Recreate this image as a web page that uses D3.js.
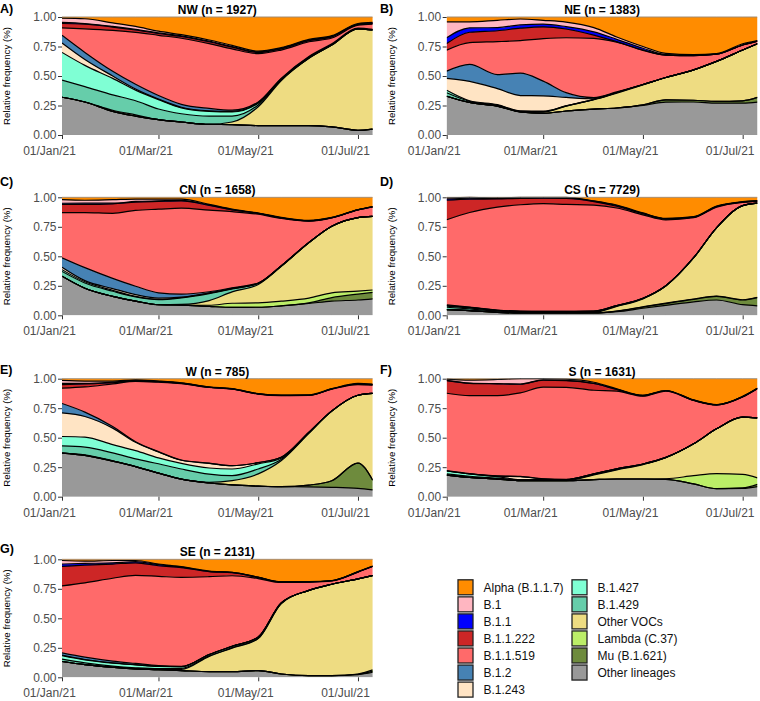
<!DOCTYPE html>
<html><head><meta charset="utf-8">
<script src="https://cdn.jsdelivr.net/npm/d3@7"></script>
<style>
body{margin:0;background:#fff}
svg{display:block}
text{font-family:"Liberation Sans",Arial,Helvetica,sans-serif}
</style>
</head><body>
<svg id="c" width="760" height="701"></svg>
<script>
// ---------------- DATA ----------------
// sampling days (offset from 01/Jan/21)
const days = [0,14,31,45,59,73,90,104,120,134,151,165,181,190];
const regions = ["NW","NE","CN","CS","W","S","SE"];
const regionN = [1927,1383,1658,7729,785,1631,2131];
const panelLetters = ["A)","B)","C)","D)","E)","F)","G)"];
const xTickDates = ["2021-01-01","2021-03-01","2021-05-01","2021-07-01"];
const yTicks = [0,0.25,0.5,0.75,1];

const seriesKeys = ["alpha","b1","b11","b11222","b11519","b12","b1243","b1427","b1429","vocs","lambda","mu","other"];
const seriesLabels = ["Alpha (B.1.1.7)","B.1","B.1.1","B.1.1.222","B.1.1.519","B.1.2","B.1.243","B.1.427","B.1.429","Other VOCs","Lambda (C.37)","Mu (B.1.621)","Other lineages"];
const seriesColors = ["#FF8C00","#FFB6C1","#0000FF","#CD2626","#FF6A6A","#4682B4","#FFE4C4","#7FFFD4","#66CDAA","#EEDC82","#BCEE68","#6E8B3D","#999999"];

const other = {
  NW:[.32,.28,.20,.16,.13,.11,.09,.088,.08,.08,.08,.07,.04,.05],
  NE:[.324,.268,.246,.196,.184,.20,.22,.23,.25,.28,.28,.27,.27,.28],
  CN:[.33,.23,.16,.12,.09,.085,.076,.068,.068,.08,.10,.12,.13,.14],
  CS:[.048,.04,.025,.02,.02,.02,.02,.03,.06,.085,.115,.13,.09,.08],
  W:[.37,.35,.306,.255,.20,.15,.117,.10,.09,.085,.085,.08,.07,.058],
  S:[.184,.164,.15,.136,.136,.136,.145,.15,.15,.147,.108,.068,.07,.085],
  SE:[.134,.108,.085,.071,.065,.057,.048,.048,.057,.028,.014,.014,.023,.043]
};
const mu = {
  NW:[0,0,0,0,0,0,0,0,0,0,0,0,0,0],
  NE:[0,0,0,0,0,0,0,0,.005,.02,.015,.015,.02,.04],
  CN:[0,0,0,0,0,0,0,0,0,0,.005,.03,.05,.055],
  CS:[0,0,0,0,0,0,0,.005,.01,.015,.02,.03,.04,.07],
  W:[0,0,0,0,0,0,0,0,0,0,.015,.056,.215,.082],
  S:[0,0,0,0,0,0,0,0,0,0,0,0,.005,.02],
  SE:[0,0,0,0,0,0,0,0,0,0,0,0,.003,.01]
};
const lambda = {
  NW:[0,0,0,0,0,0,0,0,0,0,0,0,0,0],
  NE:[0,0,0,0,0,0,0,0,0,0,0,0,0,0],
  CN:[0,0,0,0,0,0,.01,.035,.037,.04,.04,.04,.025,.02],
  CS:[0,0,0,0,0,0,0,0,.002,.003,.003,.003,.002,.002],
  W:[0,0,0,0,0,0,0,0,0,0,0,0,0,0],
  S:[0,0,0,0,0,0,0,0,0,.005,.07,.127,.115,.055],
  SE:[0,0,0,0,0,0,0,0,0,0,0,0,.002,.01]
};
const vocs = {
  NW:[0,0,.01,.01,0,0,0,.022,.16,.38,.57,.70,.86,.84],
  NE:[0,0,0,0,.01,.04,.08,.127,.17,.19,.258,.338,.43,.457],
  CN:[0,0,0,0,0,.005,.04,.097,.155,.295,.466,.564,.625,.625],
  CS:[0,0,0,0,0,0,.005,.04,.068,.146,.35,.58,.80,.80],
  W:[0,.005,.003,0,0,0,.005,.037,.104,.22,.445,.594,.575,.74],
  S:[0,0,0,0,0,0,.04,.077,.122,.178,.27,.38,.484,.508],
  SE:[0,0,0,0,0,.01,.13,.2,.273,.597,.726,.776,.81,.803]
};
const b1429 = {
  NW:[.145,.13,.13,.12,.09,.07,.07,.05,.015,.005,0,0,0,0],
  NE:[.03,.01,.008,.005,.005,.003,.003,.005,.003,0,0,0,0,0],
  CN:[.04,.044,.043,.035,.043,.055,.06,.025,.01,.005,.003,0,0,0],
  CS:[.02,.015,.01,.008,.008,.008,.006,.004,.003,.002,.002,0,0,0],
  W:[.06,.065,.068,.065,.08,.086,.071,.043,.042,.012,.004,0,0,0],
  S:[.01,.01,.008,.005,.005,.005,.005,.005,.003,.002,0,0,0,0],
  SE:[.02,.015,.01,.01,.008,.008,.004,.004,.003,.002,0,0,0,0]
};
const b1427 = {
  NW:[.235,.18,.14,.09,.08,.05,.04,.035,.015,.005,.005,0,0,0],
  NE:[.02,.005,.005,.003,.003,0,0,0,0,0,0,0,0,0],
  CN:[.015,.01,.008,.005,.003,.003,.003,.003,0,0,0,0,0,0],
  CS:[.01,.008,.005,.004,.003,.003,.002,.002,.002,.001,0,0,0,0],
  W:[.08,.085,.071,.07,.05,.047,.052,.056,.044,.01,.004,0,0,0],
  S:[.025,.02,.012,.005,.005,.005,.005,.005,.002,.001,0,0,0,0],
  SE:[.03,.025,.025,.025,.02,.015,.012,.012,.01,.005,0,0,0,0]
};
const b1243 = {
  NW:[.08,.05,.02,.01,.005,.005,.005,.005,.005,.005,.005,.005,0,0],
  NE:[.10,.16,.136,.13,.13,.07,.005,0,0,0,0,0,0,0],
  CN:[.02,.01,.015,.015,.01,.003,.003,.002,0,0,0,0,0,0],
  CS:[.005,.004,.003,.002,.002,.002,.002,.001,0,0,0,0,0,0],
  W:[.20,.175,.142,.07,.05,.027,.04,.028,.01,.008,.002,0,0,0],
  S:[0,0,.005,.025,.005,0,0,0,0,0,0,0,0,0],
  SE:[.003,.003,.002,.002,.001,0,0,0,0,0,0,0,0,0]
};
const b12 = {
  NW:[.065,.06,.04,.04,.03,.025,.02,.01,.005,.005,.005,.005,.005,.005],
  NE:[.06,.14,.12,.19,.125,.04,.01,.005,0,0,0,0,0,0],
  CN:[.08,.11,.086,.07,.045,.025,.01,.005,.003,0,0,0,0,0],
  CS:[.005,.003,.002,.001,0,0,0,0,0,0,0,0,0,0],
  W:[.08,.037,.014,.005,.003,.002,.002,.001,0,0,0,0,0,0],
  S:[.003,.003,.002,.002,.001,.001,0,0,0,0,0,0,0,0],
  SE:[.02,.02,.015,.01,.005,.002,0,0,0,0,0,0,0,0]
};
const b11519 = {
  NW:[.062,.20,.347,.44,.51,.56,.55,.52,.41,.24,.125,.05,.025,.045],
  NE:[.176,.18,.28,.275,.36,.457,.503,.423,.29,.19,.12,.061,.043,.023],
  CN:[.38,.467,.55,.64,.71,.714,.70,.65,.58,.405,.18,.07,.065,.08],
  CS:[.72,.80,.875,.90,.91,.905,.90,.82,.71,.56,.34,.175,.028,.014],
  W:[.13,.213,.366,.51,.59,.65,.645,.651,.583,.524,.316,.185,.09,.07],
  S:[.66,.664,.683,.707,.778,.783,.709,.658,.575,.562,.367,.202,.171,.247],
  SE:[.566,.63,.70,.748,.76,.757,.662,.60,.498,.174,.07,.028,.057,.077]
};
const b11222 = {
  NW:[.038,.04,.028,.02,.015,.015,.015,.015,.01,.01,.01,.01,.005,.005],
  NE:[.056,.085,.093,.105,.10,.073,.028,.005,.003,0,0,0,0,0],
  CN:[.07,.07,.08,.07,.066,.06,.04,.015,.008,.005,.003,.003,0,0],
  CS:[.165,.113,.07,.054,.045,.05,.03,.015,.01,.008,.005,.005,.003,.003],
  W:[.03,.025,.01,.005,.005,.003,.002,.002,.002,.002,.002,.002,.005,.005],
  S:[.108,.105,.10,.074,.06,.057,.057,.015,.005,.003,.003,.002,.003,.003],
  SE:[.165,.15,.12,.107,.09,.083,.043,.026,.01,.005,.003,.002,.002,.002]
};
const b11 = {
  NW:[.01,.005,.005,.005,.005,.005,.005,.005,.005,.005,.005,.005,.005,.005],
  NE:[.047,.036,.027,.028,.024,.02,.028,.02,.015,.005,.003,0,0,0],
  CN:[.01,.01,.005,.005,.005,.005,.005,.003,0,0,0,0,0,0],
  CS:[.01,.008,.005,.004,.003,.005,.003,.005,.002,.001,.001,.001,.001,.001],
  W:[.01,.005,.005,.003,.002,.002,.001,.001,0,0,0,0,0,0],
  S:[.002,.002,.002,.002,.002,.002,.001,.001,0,0,0,0,0,0],
  SE:[.02,.015,.01,.01,.01,.004,.003,.002,0,0,0,0,0,0]
};
const b1 = {
  NW:[.035,.04,.03,.025,.015,.01,.01,.01,.005,.005,.005,.005,.005,.005],
  NE:[.134,.05,.062,.05,.032,.038,.036,.02,.015,.01,.005,.005,.01,.005],
  CN:[.03,.025,.03,.02,.015,.01,.005,.005,.002,.005,.003,.002,.002,.002],
  CS:[.01,.008,.005,.004,.005,.005,.003,.005,.004,.003,.003,.003,.002,.002],
  W:[.025,.02,.01,.005,.003,.002,.002,.002,.002,.002,.002,.002,.005,.005],
  S:[.01,.025,.035,.045,.01,.01,.01,.005,.003,.002,.002,.001,.002,.002],
  SE:[.03,.02,.02,.01,.005,.003,.002,.002,.002,.002,.002,.002,.002,.002]
};
const alpha = {
  NW:[.01,.015,.05,.08,.12,.15,.195,.24,.29,.26,.19,.16,.055,.045],
  NE:[.04,.04,.028,.017,.028,.042,.09,.17,.25,.31,.32,.31,.227,.2],
  CN:[.02,.025,.02,.015,.015,.015,.06,.10,.133,.17,.195,.17,.105,.08],
  CS:[.005,0,.004,.001,0,0,.03,.065,.133,.18,.165,.075,.037,.029],
  W:[.015,.02,.02,.01,.02,.035,.07,.085,.127,.14,.14,.085,.04,.045],
  S:[.004,.012,.007,0,0,.004,.03,.085,.14,.10,.18,.22,.15,.08],
  SE:[.01,.015,.01,.01,.04,.063,.10,.11,.152,.19,.19,.18,.105,.057]
};

const seriesData = {alpha,b1,b11,b11222,b11519,b12,b1243,b1427,b1429,vocs,lambda,mu,other};

// ---------------- DRAW ----------------
const svg = d3.select("#c");
const defs = svg.append("defs");
const color = d3.scaleOrdinal().domain(seriesKeys).range(seriesColors);
const stackKeys = seriesKeys.slice().reverse();
const start = new Date(2021,0,1);
const dates = days.map(d => d3.timeDay.offset(start, d));
const tickDates = xTickDates.map(s => { const p = s.split("-"); return new Date(+p[0], +p[1]-1, +p[2]); });

const colX = [62, 446.7];
const rowY = [17, 197.3, 378.7, 559.3];
const labelY = [12.8, 185.5, 373.8, 553.2];
const W = 310.7, H = 118;
const tickCol = "#4D4D4D";

regions.forEach((reg, i) => {
  const col = i % 2, row = Math.floor(i / 2);
  const x0 = colX[col], y0 = rowY[row];
  const x = d3.scaleTime().domain([dates[0], dates[dates.length-1]]).range([x0, x0 + W]);
  const y = d3.scaleLinear().domain([0, 1]).range([y0 + H, y0]);

  const rows = dates.map((dt, j) => {
    const o = {date: dt};
    stackKeys.forEach(k => o[k] = seriesData[k][reg][j]);
    return o;
  });
  const stacked = d3.stack().keys(stackKeys).offset(d3.stackOffsetExpand)(rows);

  defs.append("clipPath").attr("id", "clip" + i)
    .append("rect").attr("x", x0).attr("y", y0 - 1).attr("width", W).attr("height", H + 1);

  const area = d3.area().x(d => x(d.data.date)).y0(d => y(d[0])).y1(d => y(d[1])).curve(d3.curveMonotoneX);
  const line = d3.line().x(d => x(d.data.date)).y(d => y(d[1])).curve(d3.curveMonotoneX);

  const g = svg.append("g").attr("clip-path", `url(#clip${i})`);
  g.selectAll("path.area").data(stacked).join("path").attr("class", "area")
    .attr("d", area).attr("fill", d => color(d.key)).attr("stroke", d => color(d.key)).attr("stroke-width", 0.3);
  g.selectAll("path.edge").data(stacked).join("path").attr("class", "edge")
    .attr("d", line).attr("fill", "none")
    .attr("stroke", d => d.key === "alpha" ? "#8a8a8a" : "#000")
    .attr("stroke-width", d => d.key === "alpha" ? 0.8 : 1.2);

  // y axis
  const ya = svg.append("g").attr("transform", `translate(${x0},0)`)
    .call(d3.axisLeft(y).tickValues(yTicks).tickFormat(d3.format(".2f")).tickSize(4).tickPadding(1.5));
  ya.select(".domain").remove();
  ya.selectAll(".tick line").attr("stroke", "#333");
  ya.selectAll(".tick text").attr("fill", tickCol).style("font-size", "12px").style("font-family", '"Liberation Sans",Arial,sans-serif');

  // x axis
  const xa = svg.append("g").attr("transform", `translate(0,${y0 + H})`)
    .call(d3.axisBottom(x).tickValues(tickDates).tickFormat(d3.timeFormat("%d/%b/%y")).tickSize(4).tickPadding(7.5));
  xa.select(".domain").remove();
  xa.selectAll(".tick line").attr("stroke", "#333");
  xa.selectAll(".tick text").attr("fill", tickCol).attr("dx", -13).style("font-size", "12px").style("font-family", '"Liberation Sans",Arial,sans-serif');

  // y title
  svg.append("text")
    .attr("transform", `translate(${x0 - 52},${y0 + H / 2}) rotate(-90)`)
    .attr("text-anchor", "middle").style("font-size", "9.7px").attr("fill", "#000")
    .text("Relative frequency (%)");

  // panel title
  svg.append("text").attr("x", x0 + W / 2).attr("y", y0 - 3.2)
    .attr("text-anchor", "middle").style("font-size", "12px").style("font-weight", "bold")
    .text(`${reg} (n = ${regionN[i]})`);

  // panel letter
  svg.append("text").attr("x", col === 0 ? 0 : 380).attr("y", labelY[row])
    .style("font-size", "12.5px").style("font-weight", "bold")
    .text(panelLetters[i]);
});

// ---------------- LEGEND ----------------
const leg = svg.append("g");
seriesKeys.forEach((k, i) => {
  const c = i < 7 ? 0 : 1;
  const r = i < 7 ? i : i - 7;
  const sx = c === 0 ? 458 : 572;
  const cy = 587.3 + r * 17.05;
  leg.append("rect").attr("x", sx).attr("y", cy - 7.5).attr("width", 15).attr("height", 15)
    .attr("fill", seriesColors[i]).attr("stroke", "#222").attr("stroke-width", 1.3);
  leg.append("text").attr("x", sx + 25.5).attr("y", cy).attr("dy", "0.35em")
    .style("font-size", "12px").attr("fill", "#111").text(seriesLabels[i]);
});
</script>
</body></html>
